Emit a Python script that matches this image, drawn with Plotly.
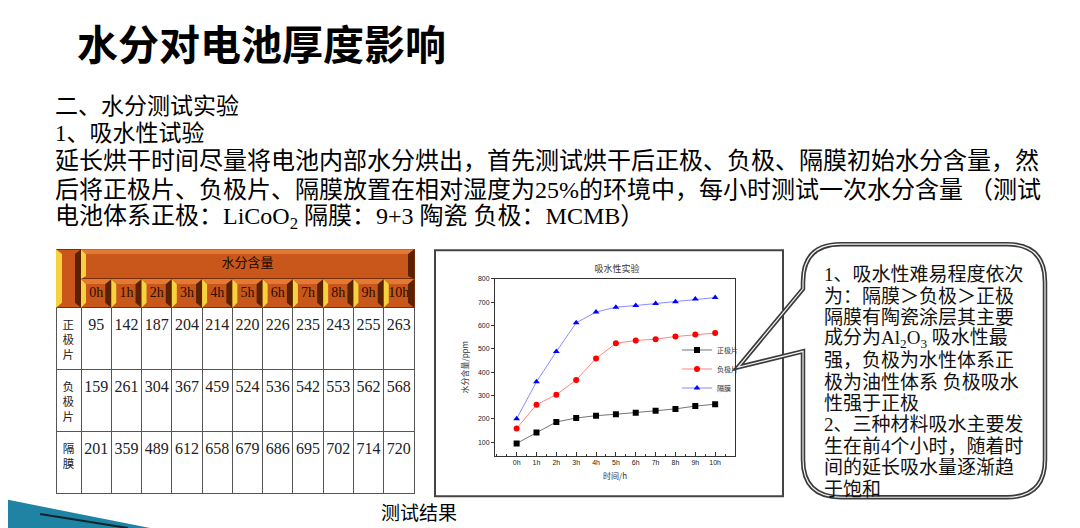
import plotly.graph_objects as go

# ─── data ────────────────────────────────────
hours = ["0h", "1h", "2h", "3h", "4h", "5h", "6h", "7h", "8h", "9h", "10h"]
cathode = [95, 142, 187, 204, 214, 220, 226, 235, 243, 255, 263]       # 正极片
anode = [159, 261, 304, 367, 459, 524, 536, 542, 553, 562, 568]        # 负极片
separator = [201, 359, 489, 612, 658, 679, 686, 695, 702, 714, 720]    # 隔膜
row_labels = ["正极片", "负极片", "隔膜"]
y_ticks = [100, 200, 300, 400, 500, 600, 700, 800]

note_lines = [
    "1、吸水性难易程度依次",
    "为：隔膜＞负极＞正极",
    "隔膜有陶瓷涂层其主要",
    "成分为Al<sub>2</sub>O<sub>3</sub> 吸水性最",
    "强，负极为水性体系正",
    "极为油性体系 负极吸水",
    "性强于正极",
    "2、三种材料吸水主要发",
    "生在前4个小时，随着时",
    "间的延长吸水量逐渐趋",
    "于饱和",
]

# ─── config ──────────────────────────────────
# page has an 8px body margin, so the figure is placed at (8, 8)
OFF = 8
W, H = 1072, 520
SERIF = "Liberation Serif, Noto Sans CJK SC"
CJK = "Noto Sans CJK SC"
SANS = "Liberation Sans, Noto Sans CJK SC"

ORANGE = "#C9561A"
ORANGE_EDGE = "#7A2E08"
YELLOW = "#F6D23C"
BROWN = "#5A2204"
LIGHT = "#E47A32"


def fx(px):
    return (px - OFF) / W


def fy(py):
    return 1 - (py - OFF) / H


def path(points, close=True):
    s = "M " + " L ".join(f"{fx(x):.5f},{fy(y):.5f}" for x, y in points)
    return s + (" Z" if close else "")


def poly(points, color, layer="above"):
    return dict(type="path", xref="paper", yref="paper", line_width=0,
                fillcolor=color, layer=layer, path=path(points))


# table geometry (screen pixels)
T_LEFT, T_RIGHT = 56, 414
T_TOP, T_H1, T_H2 = 247, 30, 29
LABEL_W = 25
ROW_H = 62

fig = go.Figure()

# ─── table: top header row ───────────────────
fig.add_trace(go.Table(
    domain=dict(x=[fx(T_LEFT), fx(T_RIGHT)], y=[fy(T_TOP + T_H1 + 2), fy(T_TOP)]),
    columnwidth=[LABEL_W, T_RIGHT - T_LEFT - LABEL_W],
    header=dict(
        values=["", "水分含量"],
        height=T_H1,
        fill_color=ORANGE,
        line=dict(color=ORANGE_EDGE, width=1),
        font=dict(family=CJK, size=13, color="#1a0a00"),
        align="center",
    ),
    cells=dict(values=[[], []], height=1),
))

# ─── table: hours header + values ────────────
cols = [["<br>".join(lbl) for lbl in row_labels]]
for i in range(len(hours)):
    cols.append([f"<br>{cathode[i]}", f"<br>{anode[i]}", f"<br>{separator[i]}"])

fig.add_trace(go.Table(
    domain=dict(x=[fx(T_LEFT), fx(T_RIGHT)], y=[fy(520), fy(T_TOP + T_H1)]),
    columnwidth=[LABEL_W] + [(T_RIGHT - T_LEFT - LABEL_W) / len(hours)] * len(hours),
    header=dict(
        values=[""] + hours,
        height=T_H2,
        fill_color=ORANGE,
        line=dict(color=ORANGE_EDGE, width=1),
        font=dict(family=SERIF, size=14, color="#2a0e00"),
        align="center",
    ),
    cells=dict(
        values=cols,
        height=ROW_H,
        fill_color="white",
        line=dict(color="#555555", width=1),
        font=dict(family=[CJK] + [SERIF] * len(hours), size=[11.5] + [16] * len(hours),
                  color="#222222"),
        align="center",
    ),
))

# ─── line chart ──────────────────────────────
x_idx = list(range(len(hours)))
series = [
    ("正极片", cathode, "#000000", "rgba(70,70,70,0.75)", "square"),
    ("负极片", anode, "#FF0000", "rgba(255,80,80,0.7)", "circle"),
    ("隔膜", separator, "#0000FF", "rgba(90,90,255,0.7)", "triangle-up"),
]
for name, vals, mcol, lcol, sym in series:
    fig.add_trace(go.Scatter(
        x=x_idx, y=vals, name=name, mode="lines+markers",
        line=dict(color=lcol, width=1),
        marker=dict(symbol=sym, size=6, color=mcol),
    ))

axis_font = dict(family=SANS, size=7, color="#222")
fig.update_xaxes(
    domain=[fx(495), fx(735)], range=[-1.09, 11.0],
    tickvals=x_idx, ticktext=hours, tickfont=axis_font,
    ticks="inside", ticklen=4, tickcolor="#333",
    minor=dict(dtick=0.5, ticks="inside", ticklen=2, tickcolor="#333"),
    showline=True, linecolor="#333", linewidth=1, mirror=True,
    showgrid=False, zeroline=False,
    title=dict(text="时间/h", font=dict(family=CJK, size=8, color="#333"), standoff=8),
)
fig.update_yaxes(
    domain=[fy(455), fy(277)], range=[43, 800],
    tickvals=y_ticks, tickfont=axis_font,
    ticks="outside", ticklen=3, tickcolor="#333",
    showline=True, linecolor="#333", linewidth=1, mirror=True,
    showgrid=False, zeroline=False,
    title=dict(text="水分含量/ppm", font=dict(family=CJK, size=8, color="#333"), standoff=8),
)

# ─── text ────────────────────────────────────
annotations = [
    dict(text="<b>水分对电池厚度影响</b>", x=fx(75), y=fy(38), xanchor="left",
         font=dict(family=CJK, size=41, color="black")),
    dict(text="二、水分测试实验", x=fx(53), y=fy(103), xanchor="left",
         font=dict(family=SERIF, size=23, color="black")),
    dict(text="1、吸水性试验", x=fx(53), y=fy(130), xanchor="left",
         font=dict(family=SERIF, size=23, color="black")),
    dict(text="延长烘干时间尽量将电池内部水分烘出，首先测试烘干后正极、负极、隔膜初始水分含量，然",
         x=fx(53), y=fy(158), xanchor="left",
         font=dict(family=SERIF, size=24, color="black")),
    dict(text="后将正极片、负极片、隔膜放置在相对湿度为25%的环境中，每小时测试一次水分含量 （测试",
         x=fx(53), y=fy(187), xanchor="left",
         font=dict(family=SERIF, size=24, color="black")),
    dict(text="电池体系正极：LiCoO<sub>2</sub> 隔膜：9+3 陶瓷 负极：MCMB）",
         x=fx(53), y=fy(216), xanchor="left",
         font=dict(family=SERIF, size=24, color="black")),
    dict(text="测试结果", x=fx(419), y=fy(513),
         font=dict(family=SERIF, size=19, color="black")),
]
for k, line in enumerate(note_lines):
    annotations.append(dict(text=line, x=fx(822), y=fy(273 + 21.6 * k), xanchor="left",
                            font=dict(family=SERIF, size=19, color="#111")))
for a in annotations:
    a.update(xref="paper", yref="paper", showarrow=False, yanchor="middle")

# ─── shapes ──────────────────────────────────
shapes = []
# chart frame
shapes.append(dict(type="rect", xref="paper", yref="paper",
                   x0=fx(435), x1=fx(783), y0=fy(496), y1=fy(248),
                   line=dict(color="#444", width=2), layer="below"))

# speech bubble with pointer
L, R, TOP, BOT, RAD = 803, 1045, 242, 497, 38
tip = (738, 366)


def P(x, y):
    return f"{fx(x):.5f},{fy(y):.5f}"


bp = " ".join([
    f"M {P(L + RAD, TOP)}",
    f"L {P(R - RAD, TOP)}",
    f"Q {P(R, TOP)} {P(R, TOP + RAD)}",
    f"L {P(R, BOT - RAD)}",
    f"Q {P(R, BOT)} {P(R - RAD, BOT)}",
    f"L {P(L + RAD, BOT)}",
    f"Q {P(L, BOT)} {P(L, BOT - RAD)}",
    f"L {P(L, 350)}",
    f"L {P(*tip)}",
    f"L {P(L, 287)}",
    f"L {P(L, TOP + RAD)}",
    f"Q {P(L, TOP)} {P(L + RAD, TOP)}",
    "Z",
])
shapes.append(dict(type="path", path=bp, xref="paper", yref="paper",
                   line=dict(color="#3a3a3a", width=4.5), layer="above"))
shapes.append(dict(type="path", path=bp, xref="paper", yref="paper",
                   line=dict(color="#f4f4f4", width=1.2), layer="above"))

# header bevels (computed from the table geometry)
col_w = (T_RIGHT - T_LEFT - LABEL_W) / len(hours)
y1, y2 = T_TOP + T_H1, T_TOP + T_H1 + T_H2
for i in range(len(hours)):
    x0 = T_LEFT + LABEL_W + i * col_w
    x1 = x0 + col_w
    shapes.append(poly([(x0, y1), (x0 + 5, y1 + 5), (x0 + 5, y2 - 5), (x0, y2)], YELLOW))
    shapes.append(poly([(x1, y1), (x1 - 6, y1 + 5), (x1 - 6, y2 - 5), (x1, y2)], BROWN))
    shapes.append(poly([(x0, y1), (x1, y1), (x1 - 6, y1 + 5), (x0 + 5, y1 + 5)], LIGHT))
# label column header (spans both header rows)
xl, xr = T_LEFT, T_LEFT + LABEL_W
shapes.append(poly([(xl, T_TOP), (xl + 6, T_TOP + 5), (xl + 6, y2 - 5), (xl, y2)], YELLOW))
shapes.append(poly([(xr, T_TOP), (xr - 6, T_TOP + 5), (xr - 6, y2 - 5), (xr, y2)], BROWN))
shapes.append(poly([(xl + 6, y1 - 3), (xr - 6, y1 - 3), (xr - 6, y1 + 3), (xl + 6, y1 + 3)], ORANGE))
# top header bevels
shapes.append(poly([(xr, T_TOP), (xr + 5, T_TOP + 5), (xr + 5, y1 - 3), (xr, y1)], YELLOW))
shapes.append(poly([(T_RIGHT, T_TOP), (T_RIGHT - 6, T_TOP + 5), (T_RIGHT - 6, y1 - 3),
                    (T_RIGHT, y1)], BROWN))
shapes.append(poly([(xr, T_TOP), (T_RIGHT, T_TOP), (T_RIGHT - 6, T_TOP + 5),
                    (xr + 5, T_TOP + 5)], LIGHT))

# teal corner decoration
shapes.append(poly([(0, 498), (150, 528), (0, 528)], "#1F84A4", layer="below"))
shapes.append(dict(type="path", xref="paper", yref="paper",
                   line=dict(color="#10242c", width=2), layer="below",
                   path=path([(40, 514), (128, 528)], close=False)))

fig.update_layout(
    width=W, height=H,
    margin=dict(l=0, r=0, t=0, b=0),
    paper_bgcolor="white", plot_bgcolor="white",
    title=dict(text="吸水性实验", x=fx(617), y=fy(267), xanchor="center", yanchor="middle",
               xref="paper", yref="paper", font=dict(family=CJK, size=9, color="#333")),
    legend=dict(x=fx(677), y=fy(334), xanchor="left", yanchor="top",
                font=dict(family=CJK, size=7, color="#333"),
                bgcolor="rgba(0,0,0,0)", tracegroupgap=0, itemwidth=30),
    annotations=annotations,
    shapes=shapes,
)

fig.write_html("out.html")
